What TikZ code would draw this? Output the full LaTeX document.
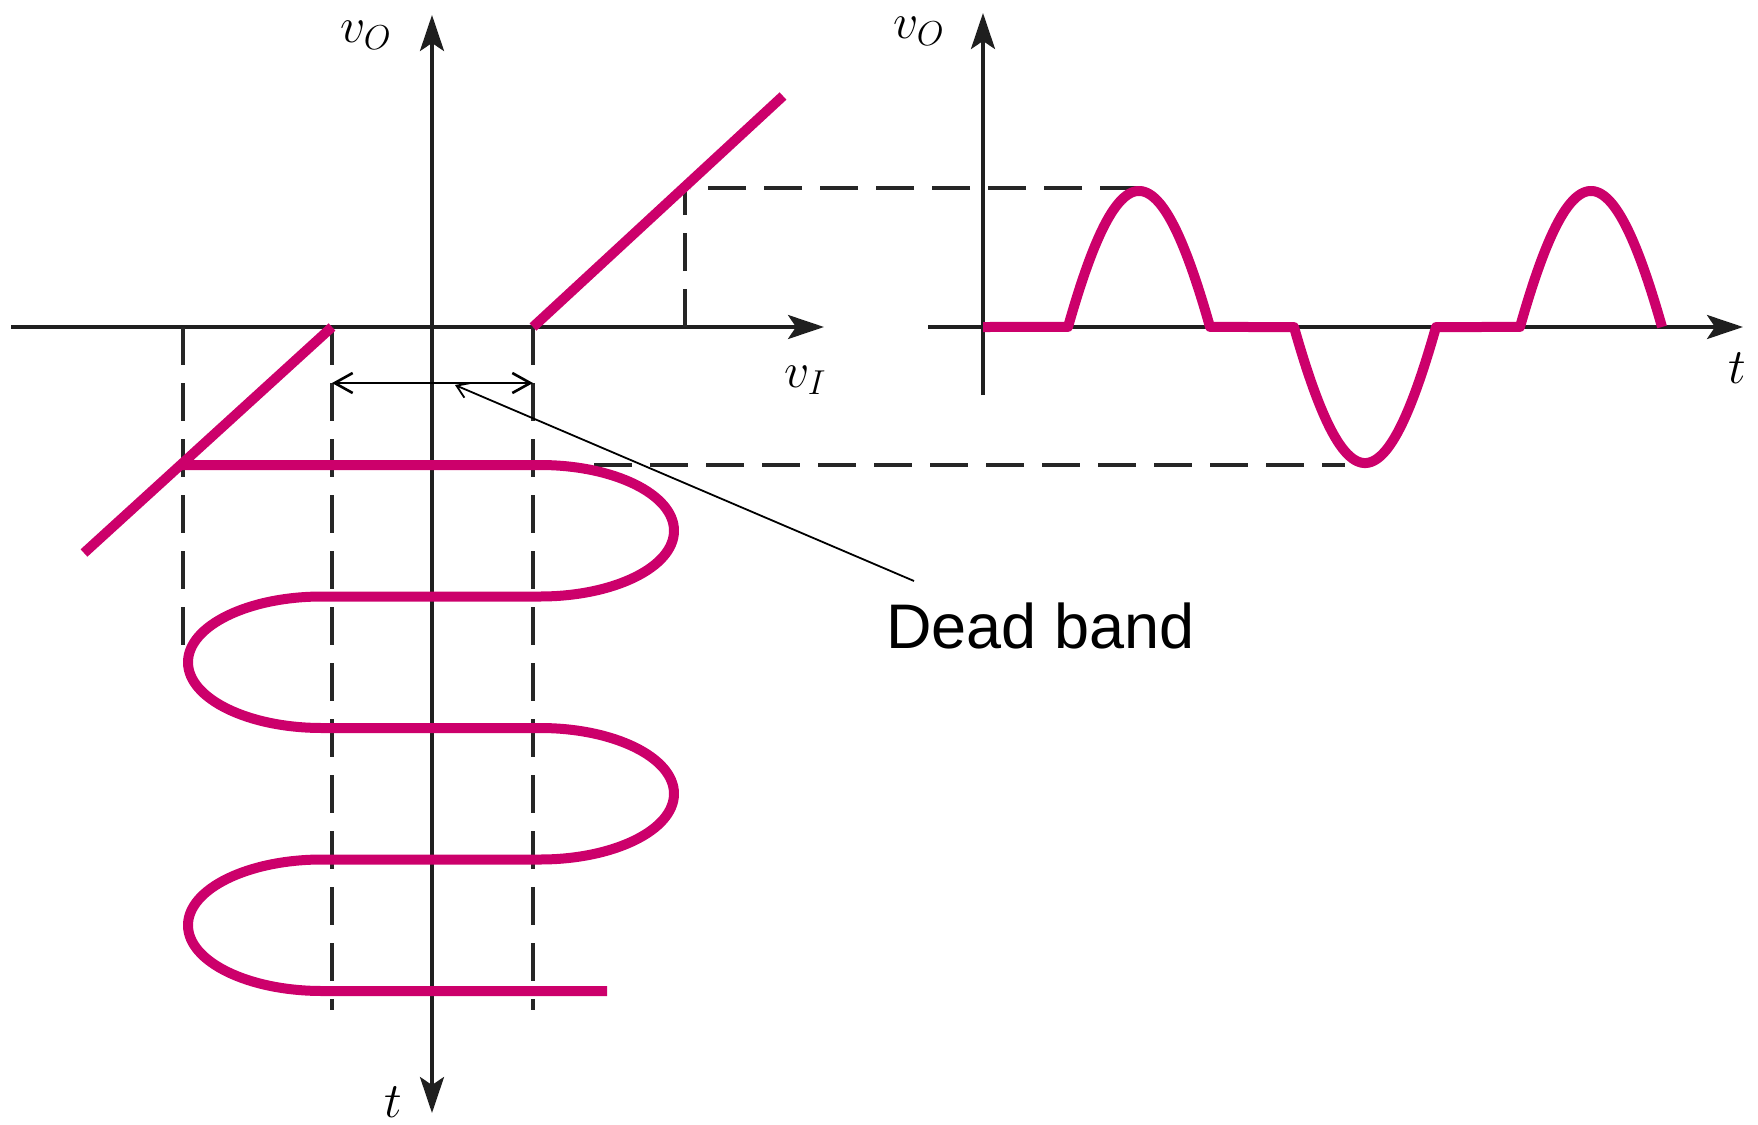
\documentclass[tikz,border=0pt]{standalone}
\usepackage{fontspec}
\usetikzlibrary{arrows.meta}
\newfontfamily\labelfont{Liberation Sans}
\definecolor{wavemag}{RGB}{204,0,107}
\begin{document}
\begin{tikzpicture}[x=0.5pt,y=-0.5pt,
  axisline/.style={line width=1.8pt, draw=black!88, -{Stealth[length=18pt,width=12pt,inset=4pt]}},
  axisboth/.style={line width=1.8pt, draw=black!88, {Stealth[length=18pt,width=12pt,inset=4pt]}-{Stealth[length=18pt,width=12pt,inset=4pt]}},
  guide/.style={line width=1.6pt, draw=black!85, dash pattern=on 19pt off 9pt},
  wave/.style={line width=5pt, draw=wavemag, line join=round},
  band/.style={line width=1.3pt, draw=black, {Straight Barb[length=9pt,width=10pt]}-{Straight Barb[length=9pt,width=10pt]}},
  leader/.style={line width=0.9pt, draw=black, -{Straight Barb[length=6pt,width=8pt]}},
  mlabel/.style={inner sep=0pt, font=\fontsize{26}{30}\selectfont},
  textlabel/.style={inner sep=0pt, font=\labelfont\fontsize{31.5}{36}\selectfont}
]
\useasboundingbox (0,0) rectangle (1758,1125);

% ---- left graph: transfer characteristic ----
\coordinate (LaxW) at (11,327);
\coordinate (LaxE) at (824,327);
\coordinate (LaxN) at (432,15);
\coordinate (LaxS) at (432,1113);
\draw[axisline] (LaxW) -- (LaxE);
\draw[axisboth] (LaxS) -- (LaxN);

% dashed guides
\coordinate (gA1) at (183,327); \coordinate (gA2) at (183,655);
\coordinate (gB1) at (332,327); \coordinate (gB2) at (332,1010);
\coordinate (gC1) at (533,327); \coordinate (gC2) at (533,1010);
\coordinate (gD1) at (685,327); \coordinate (gD2) at (685,188);
\coordinate (gE1) at (1138,188); \coordinate (gE2) at (690,188);
\coordinate (gF1) at (594,465); \coordinate (gF2) at (1345,465);
\draw[guide] (gA1) -- (gA2);
\draw[guide] (gB1) -- (gB2);
\draw[guide] (gC1) -- (gC2);
\draw[guide] (gD1) -- (gD2);
\draw[guide] (gE1) -- (gE2);
\draw[guide] (gF1) -- (gF2);

% transfer characteristic
\coordinate (tL1) at (332,327); \coordinate (tL2) at (84,553);
\coordinate (tR1) at (533,327); \coordinate (tR2) at (783,96);
\draw[wave] (tL1) -- (tL2);
\draw[wave] (tR1) -- (tR2);

% input waveform (t downward)
\draw[wave] (181,465) -- (540,465)
  .. controls (614,465) and (674,494.4) .. (674,530.75)
  .. controls (674,567.1) and (614,596.5) .. (540,596.5)
  -- (322,596.5)
  .. controls (248,596.5) and (188,625.9) .. (188,662.25)
  .. controls (188,698.6) and (248,728) .. (322,728)
  -- (540,728)
  .. controls (614,728) and (674,757.4) .. (674,793.75)
  .. controls (674,830.1) and (614,859.5) .. (540,859.5)
  -- (322,859.5)
  .. controls (248,859.5) and (188,888.9) .. (188,925.25)
  .. controls (188,961.6) and (248,991) .. (322,991)
  -- (607,991);

% dead band arrow
\coordinate (dbL) at (332,383);
\coordinate (dbR) at (533,383);
\draw[band] (dbL) -- (dbR);
\coordinate (dbP) at (455,385);

% labels left graph
\node[mlabel, anchor=base west] (vo1) at (340,42) {$v_O$};
\node[mlabel, anchor=base west] (vi) at (784,387) {$v_I$};
\node[mlabel, anchor=base west] (t2) at (384,1117) {$t$};

% ---- right graph: output vs time ----
\coordinate (RaxW) at (928,327);
\coordinate (RaxE) at (1743,327);
\coordinate (RaxS) at (983,395);
\coordinate (RaxN) at (983,13);
\draw[axisline] (RaxW) -- (RaxE);
\draw[axisline] (RaxS) -- (RaxN);

\draw[wave] (983,327)
  -- plot[domain=33.45:146.55, samples=60, variable=\t] ({1026+\t*1.25556},{327-303*(sin(\t)-0.551)})
  -- plot[domain=213.45:326.55, samples=60, variable=\t] ({1026+\t*1.25556},{327-303*(sin(\t)+0.551)})
  -- plot[domain=393.45:506.55, samples=60, variable=\t] ({1026+\t*1.25556},{327-303*(sin(\t)-0.551)});

\node[mlabel, anchor=base west] (vo2) at (893,38) {$v_O$};
\node[mlabel, anchor=base west] (t1) at (1728,383) {$t$};

% ---- dead band label ----
\node[textlabel, anchor=base west] (dead) at (886,648) {Dead band};
\coordinate (deadTip) at (914,581);
\draw[leader] (deadTip) -- (dbP);
\end{tikzpicture}
\end{document}
